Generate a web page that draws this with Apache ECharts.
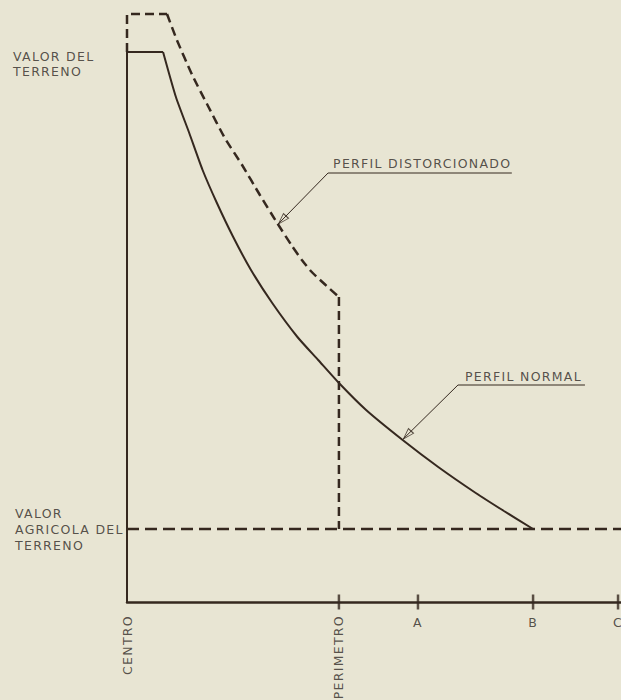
<!DOCTYPE html>
<html>
<head>
<meta charset="utf-8">
<script src="https://cdn.jsdelivr.net/npm/echarts@6/dist/echarts.min.js"></script>
<style>
  html, body { margin: 0; padding: 0; background: #e8e5d3; }
  #chart { width: 621px; height: 700px; }
  #chart text { letter-spacing: 1.3px; }
</style>
</head>
<body>
<div id="chart"></div>
<script>
// x: distance from the centre (CENTRO = 0), y: land value
const tickNames = ['CENTRO', 'PERIMETRO', 'A', 'B', 'C']
const tickX = [0, 42.9, 58.9, 82.2, 99.4]

const landValue = 110
const distortedTop = 117.6
const agriValue = 14.6

// perfil normal
const normalX = [7.3, 9.9, 12.6, 15.3, 18.2, 21.5, 25.1, 29.4, 34.5, 38.7, 42.9, 48.4, 55.8, 63.0, 70.6, 76.3, 82.2]
const normalY = [110, 101, 93.8, 86.4, 79.8, 73, 66.4, 59.8, 53, 48.4, 43.8, 38.4, 32.4, 27, 21.8, 18.2, 14.6]

// perfil distorcionado
const distortedX = [8.1, 10.1, 13.2, 16.4, 19.8, 23.3, 26.9, 30.4, 33.4, 35.4, 37.2, 39.1, 41.1, 42.9]
const distortedY = [117.6, 112.4, 105.4, 99.2, 92.8, 87.4, 81.4, 75.8, 71.2, 68.4, 66.2, 64.4, 62.6, 61]

// leader lines: arrow tip, elbow, end of underline
const distLeader = [[30.6, 75.6], [40.7, 85.8], [77.9, 85.8]]
const normLeader = [[55.9, 32.6], [67.0, 43.4], [92.7, 43.4]]

const ink = '#35281f'
const textInk = '#2f2a26'
const bg = '#e8e5d3'

const chart = echarts.init(document.getElementById('chart'), null, { renderer: 'svg' })

const zip = (xs, ys) => xs.map((x, i) => [x, ys[i]])

const textStyle = {
	color: textInk,
	fontFamily: 'DejaVu Sans',
	fontSize: 12.5
}

function lineSeries(data, opts) {
	return Object.assign({
		type: 'line',
		data: data,
		symbol: 'none',
		clip: false,
		silent: true,
		lineStyle: { color: ink, width: 2 }
	}, opts)
}

const dashed = { color: ink, width: 2.5, type: [9, 5] }

const labels = [
	{ value: [0, landValue], label: Object.assign({ show: true, formatter: 'VALOR DEL\nTERRENO', position: [-114, 12], align: 'left', verticalAlign: 'middle', lineHeight: 15 }, textStyle) },
	{ value: [0, agriValue], label: Object.assign({ show: true, formatter: 'VALOR\nAGRICOLA DEL\nTERRENO', position: [-112, 0], align: 'left', verticalAlign: 'middle', lineHeight: 16 }, textStyle) },
	{ value: distLeader[1], label: Object.assign({ show: true, formatter: 'PERFIL DISTORCIONADO', position: [5, -10], align: 'left', verticalAlign: 'middle' }, textStyle) },
	{ value: normLeader[1], label: Object.assign({ show: true, formatter: 'PERFIL NORMAL', position: [7, -9], align: 'left', verticalAlign: 'middle' }, textStyle) }
]
tickNames.forEach((name, i) => {
	const vertical = name.length > 1
	labels.push({
		value: [tickX[i], 0],
		label: Object.assign({
			show: true,
			formatter: name,
			position: vertical ? [0, 13] : [0, 20],
			rotate: vertical ? 90 : 0,
			align: vertical ? 'right' : 'center',
			verticalAlign: 'middle'
		}, textStyle)
	})
})

const option = {
	backgroundColor: bg,
	animation: false,
	grid: { left: 127, right: 0, top: 2, bottom: 98 },
	xAxis: {
		type: 'value',
		min: 0,
		max: 100,
		axisLine: { show: true, lineStyle: { color: ink, width: 2.5 } },
		axisTick: { show: false },
		axisLabel: { show: false },
		splitLine: { show: false }
	},
	yAxis: {
		type: 'value',
		min: 0,
		max: 120,
		axisLine: { show: false },
		axisTick: { show: false },
		axisLabel: { show: false },
		splitLine: { show: false }
	},
	series: [
		// agricultural value level
		lineSeries([[0, agriValue], [100, agriValue]], { lineStyle: { color: ink, width: 2.5, type: [12, 6] } }),
		// distorted profile
		lineSeries([[0, landValue], [0, distortedTop], [distortedX[0], distortedTop]], { lineStyle: dashed }),
		lineSeries(zip(distortedX, distortedY), { smooth: 0.2, lineStyle: dashed }),
		lineSeries([[tickX[1], distortedY[distortedY.length - 1]], [tickX[1], agriValue]], { lineStyle: dashed }),
		// normal profile (starts on the vertical axis)
		lineSeries([[0, 0], [0, landValue], [normalX[0], landValue]]),
		lineSeries(zip(normalX, normalY), { smooth: 0.2 }),
		// leaders
		lineSeries(distLeader, { lineStyle: { color: ink, width: 1 } }),
		lineSeries(normLeader, { lineStyle: { color: ink, width: 1 } }),
		// arrow heads
		{
			type: 'scatter',
			silent: true,
			clip: false,
			symbol: 'triangle',
			symbolSize: [7, 11],
			symbolRotate: 137,
			symbolOffset: [4, -4],
			itemStyle: { color: bg, borderColor: ink, borderWidth: 1 },
			data: [distLeader[0], normLeader[0]]
		},
		// ticks on the distance axis
		{
			type: 'scatter',
			silent: true,
			clip: false,
			symbol: 'rect',
			symbolSize: [2.5, 15],
			itemStyle: { color: ink },
			data: tickX.slice(1).map(x => [x, 0])
		},
		// texts
		{
			type: 'scatter',
			silent: true,
			clip: false,
			symbolSize: 0,
			data: labels
		}
	]
}

chart.setOption(option)
</script>
</body>
</html>
